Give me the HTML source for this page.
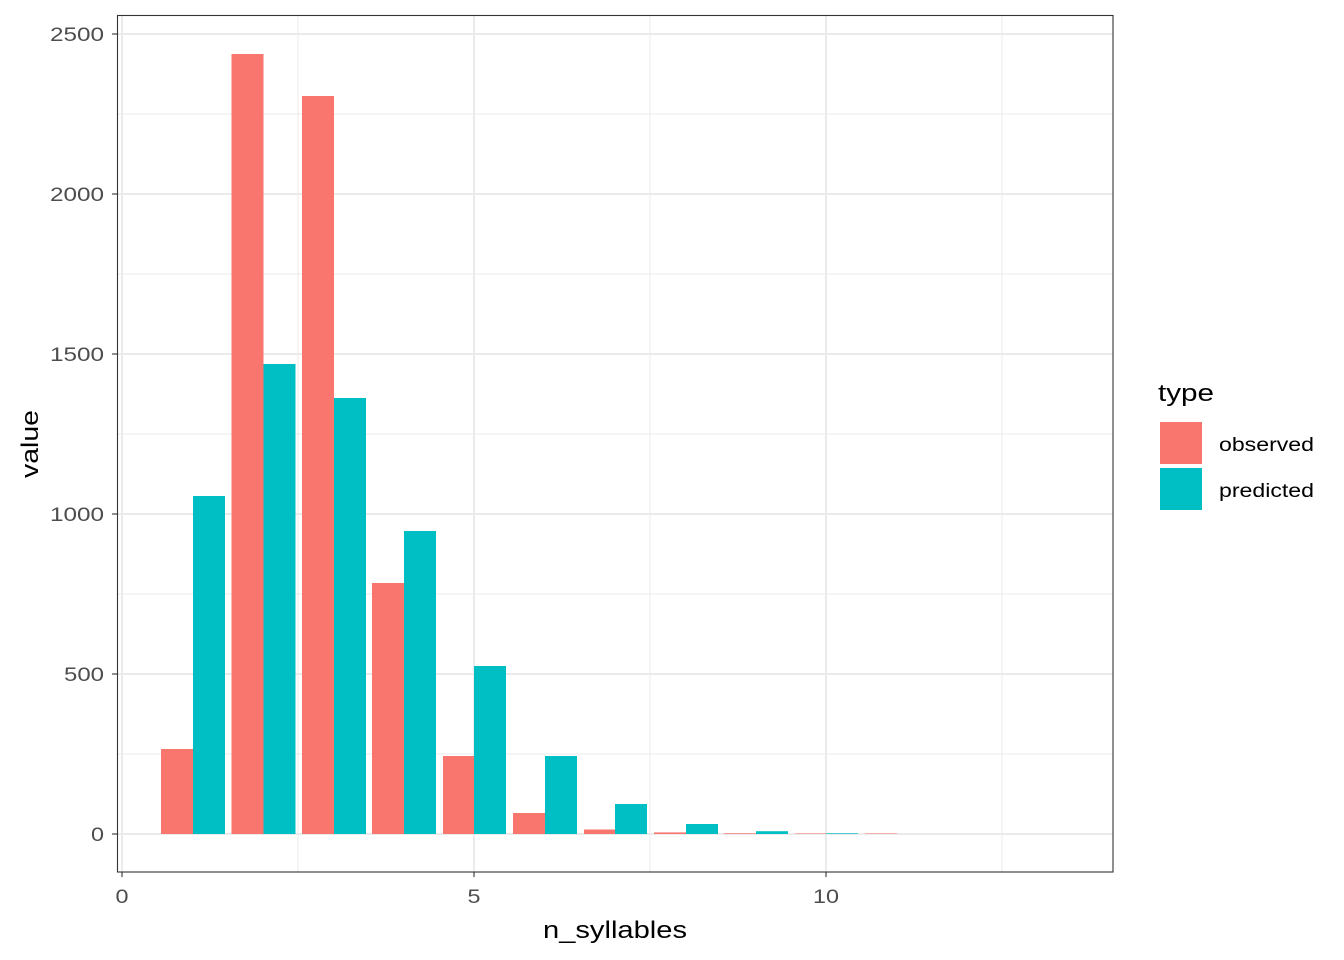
<!DOCTYPE html>
<html><head><meta charset="utf-8"><style>body{margin:0;background:#fff}svg{display:block}</style></head><body>
<svg width="1344" height="960" xmlns="http://www.w3.org/2000/svg" font-family="Liberation Sans, sans-serif">
<rect width="1344" height="960" fill="#fff"/>
<g stroke="#ebebeb" stroke-width="1">
<line x1="117" x2="1113" y1="754" y2="754"/><line x1="117" x2="1113" y1="594" y2="594"/><line x1="117" x2="1113" y1="434" y2="434"/><line x1="117" x2="1113" y1="274" y2="274"/><line x1="117" x2="1113" y1="114" y2="114"/>
<line y1="15" y2="872" x1="298" x2="298"/><line y1="15" y2="872" x1="650" x2="650"/><line y1="15" y2="872" x1="1002" x2="1002"/>
</g>
<g stroke="#ebebeb" stroke-width="2">
<line x1="117" x2="1113" y1="834" y2="834"/><line x1="117" x2="1113" y1="674" y2="674"/><line x1="117" x2="1113" y1="514" y2="514"/><line x1="117" x2="1113" y1="354" y2="354"/><line x1="117" x2="1113" y1="194" y2="194"/><line x1="117" x2="1113" y1="34" y2="34"/>
<line y1="15" y2="872" x1="122" x2="122"/><line y1="15" y2="872" x1="474" x2="474"/><line y1="15" y2="872" x1="826" x2="826"/>
</g>
<g fill="#F8766D">
<rect x="161" y="749" width="32" height="85"/>
<rect x="231.5" y="54" width="32" height="780"/>
<rect x="302" y="96" width="32" height="738"/>
<rect x="372" y="583" width="32" height="251"/>
<rect x="443" y="756" width="32" height="78"/>
<rect x="513" y="813" width="32" height="21"/>
<rect x="584" y="829.5" width="32" height="4.5"/>
<rect x="654" y="832.4" width="32" height="1.6"/>
<rect x="724" y="833.3" width="32" height="0.7"/>
<rect x="795" y="833.5" width="32" height="0.5"/>
<rect x="865" y="833.5" width="32" height="0.5"/>
</g>
<g fill="#00BFC4">
<rect x="193" y="496" width="32" height="338"/>
<rect x="263.5" y="364" width="32" height="470"/>
<rect x="334" y="398" width="32" height="436"/>
<rect x="404" y="531" width="32" height="303"/>
<rect x="474" y="666" width="32" height="168"/>
<rect x="545" y="756" width="32" height="78"/>
<rect x="615" y="804" width="32" height="30"/>
<rect x="686" y="824" width="32" height="10"/>
<rect x="756" y="831.2" width="32" height="2.8"/>
<rect x="826" y="833.3" width="32" height="0.7"/>
</g>
<rect x="117.5" y="15.5" width="995.5" height="856.5" fill="none" stroke="#333" stroke-width="1.1"/>
<g stroke="#333" stroke-width="1.1">
<line x1="112" x2="117" y1="834" y2="834"/><line x1="112" x2="117" y1="674" y2="674"/><line x1="112" x2="117" y1="514" y2="514"/><line x1="112" x2="117" y1="354" y2="354"/><line x1="112" x2="117" y1="194" y2="194"/><line x1="112" x2="117" y1="34" y2="34"/>
<line x1="122" x2="122" y1="872" y2="877"/><line x1="474" x2="474" y1="872" y2="877"/><line x1="826" x2="826" y1="872" y2="877"/>
</g>
<g fill="#4d4d4d" font-size="19" text-anchor="end">
<text x="104" y="841" textLength="13" lengthAdjust="spacingAndGlyphs">0</text>
<text x="104" y="681" textLength="40" lengthAdjust="spacingAndGlyphs">500</text>
<text x="104" y="521" textLength="54" lengthAdjust="spacingAndGlyphs">1000</text>
<text x="104" y="361" textLength="54" lengthAdjust="spacingAndGlyphs">1500</text>
<text x="104" y="201" textLength="54" lengthAdjust="spacingAndGlyphs">2000</text>
<text x="104" y="41" textLength="54" lengthAdjust="spacingAndGlyphs">2500</text>
</g>
<g fill="#4d4d4d" font-size="19" text-anchor="middle">
<text x="122" y="903" textLength="13" lengthAdjust="spacingAndGlyphs">0</text>
<text x="474" y="903" textLength="13" lengthAdjust="spacingAndGlyphs">5</text>
<text x="826" y="903" textLength="26" lengthAdjust="spacingAndGlyphs">10</text>
</g>
<text x="615" y="938" font-size="24" text-anchor="middle" textLength="144" lengthAdjust="spacingAndGlyphs">n_syllables</text>
<text transform="translate(38,444) rotate(-90)" font-size="24" text-anchor="middle" textLength="68" lengthAdjust="spacingAndGlyphs">value</text>
<text x="1158" y="401" font-size="24" textLength="56" lengthAdjust="spacingAndGlyphs">type</text>
<rect x="1160" y="422" width="42" height="42" fill="#F8766D"/>
<rect x="1160" y="468" width="42" height="42" fill="#00BFC4"/>
<text x="1219" y="451" font-size="19" textLength="95" lengthAdjust="spacingAndGlyphs">observed</text>
<text x="1219" y="497" font-size="19" textLength="95" lengthAdjust="spacingAndGlyphs">predicted</text>
</svg>
</body></html>
